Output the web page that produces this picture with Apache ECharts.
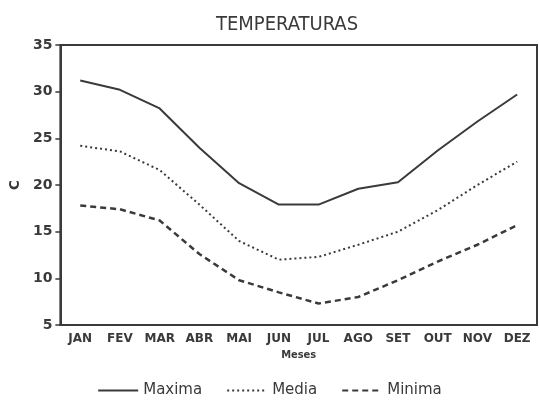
<!DOCTYPE html>
<html><head><meta charset="utf-8">
<script src="https://cdn.jsdelivr.net/npm/echarts@6/dist/echarts.min.js"></script>
<style>html,body{margin:0;padding:0;background:#fff}#c{width:539px;height:413px}</style>
</head><body><div id="c"></div>
<script>
var months = ['JAN','FEV','MAR','ABR','MAI','JUN','JUL','AGO','SET','OUT','NOV','DEZ'];
var maxima = [31.2, 30.2, 28.2, 24.0, 20.2, 17.9, 17.9, 19.6, 20.3, 23.7, 26.8, 29.7];
var media  = [24.2, 23.6, 21.6, 17.9, 14.0, 12.0, 12.3, 13.6, 15.0, 17.3, 20.0, 22.5];
var minima = [17.8, 17.4, 16.2, 12.6, 9.8, 8.5, 7.3, 8.0, 9.8, 11.8, 13.6, 15.7];
var yTicks = [5, 10, 15, 20, 25, 30, 35];

var ink = '#3a3a3a';
var chart = echarts.init(document.getElementById('c'));
chart.setOption({
  animation: false,
  backgroundColor: '#fff',
  title: {
    text: 'TEMPERATURAS', left: 282, top: 10, textAlign: 'center',
    textStyle: {fontFamily: 'DejaVu Sans Condensed', fontWeight: 'normal', fontSize: 20, color: ink}
  },
  grid: {left: 60, right: 2, top: 45, bottom: 88, show: true, borderColor: ink, borderWidth: 2, backgroundColor: 'transparent'},
  legend: {
    bottom: 10, left: 'center', itemWidth: 40, itemHeight: 10, itemGap: 24,
    itemStyle: {color: 'transparent', borderWidth: 0, opacity: 0},
    textStyle: {fontFamily: 'DejaVu Sans', fontSize: 15, color: ink},
    data: ['Maxima', 'Media', 'Minima']
  },
  xAxis: {
    type: 'category', data: months, boundaryGap: true,
    name: 'Meses', nameLocation: 'middle', nameGap: 25,
    nameTextStyle: {fontFamily: 'DejaVu Sans Condensed', fontWeight: 'bold', fontSize: 11, color: ink},
    axisLine: {lineStyle: {color: ink, width: 2}},
    axisTick: {alignWithLabel: true, length: 5, lineStyle: {color: ink, width: 1.5}},
    axisLabel: {fontFamily: 'DejaVu Sans', fontWeight: 'bold', fontSize: 12, color: ink, margin: 8}
  },
  yAxis: {
    type: 'value', min: yTicks[0], max: yTicks[yTicks.length - 1], interval: 5,
    name: 'C', nameLocation: 'middle', nameGap: 36, nameRotate: 90,
    nameTextStyle: {fontFamily: 'DejaVu Sans', fontWeight: 'bold', fontSize: 14, color: ink},
    axisLine: {show: true, lineStyle: {color: ink, width: 2}},
    axisTick: {show: true, length: 5, lineStyle: {color: ink, width: 1.5}},
    splitLine: {show: false},
    axisLabel: {fontFamily: 'DejaVu Sans', fontWeight: 'bold', fontSize: 14, color: ink, margin: 8}
  },
  series: [
    {name: 'Maxima', type: 'line', data: maxima, symbol: 'none', lineStyle: {color: ink, width: 2, type: 'solid'}, itemStyle: {color: ink}},
    {name: 'Media', type: 'line', data: media, symbol: 'none', lineStyle: {color: ink, width: 2, type: [2, 3]}, itemStyle: {color: ink}},
    {name: 'Minima', type: 'line', data: minima, symbol: 'none', lineStyle: {color: ink, width: 2.5, type: [6, 4]}, itemStyle: {color: ink}}
  ]
});
</script></body></html>
